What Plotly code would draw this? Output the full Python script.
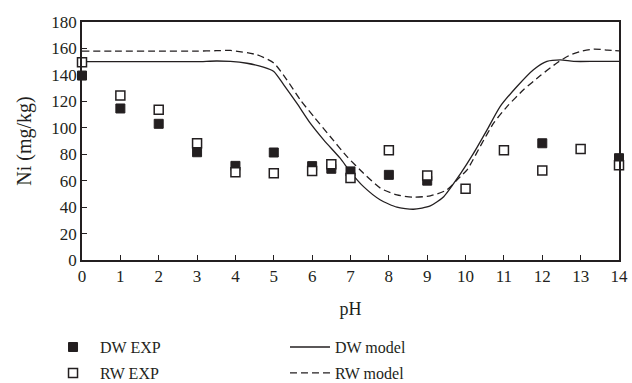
import plotly.graph_objects as go

# Experimental data
ph_exp_dw = [0, 1, 2, 3, 4, 5, 6, 6.5, 7, 8, 9, 12, 14]
ni_exp_dw = [139.5, 114.6, 103, 81.5, 71.2, 81.3, 71, 69, 67, 64.4, 60, 88.3, 77]
ph_exp_rw = [0, 1, 2, 3, 4, 5, 6, 6.5, 7, 8, 9, 10, 11, 12, 13, 14]
ni_exp_rw = [149.6, 124.4, 113.6, 88.3, 66.4, 65.6, 67.4, 72.5, 62, 83, 64, 53.8, 83, 67.6, 84, 71.7]

# Model curves
ph_mod_dw = [0, 1, 2, 3, 3.5, 3.87, 4.3, 4.73, 5.0, 5.26, 5.6, 5.95, 6.3, 6.73, 6.99, 7.34,
             7.78, 8.21, 8.64, 9.08, 9.43, 9.86, 10.21, 10.56, 10.9, 11.34, 11.77, 12.12,
             12.47, 12.82, 13.4, 14]
ni_mod_dw = [150, 150, 150, 150, 150.5, 150.2, 148.8, 145.9, 142.6, 132.5, 118.6, 103.5, 90.9,
             77, 66.9, 55.5, 45.4, 39.9, 38.4, 40.9, 47.9, 65, 80.8, 98.4, 116, 131.2, 143.9,
             150.2, 151.4, 150.2, 150.2, 150.2]
ph_mod_rw = [0, 1, 2, 3, 3.5, 3.87, 4.56, 5.0, 5.34, 5.69, 6.04, 6.47, 6.91, 7.34, 7.78, 8.21,
             8.64, 9.08, 9.51, 9.86, 10.04, 10.38, 10.73, 11.08, 11.51, 11.95, 12.38, 12.69,
             12.99, 13.34, 13.7, 14]
ni_mod_rw = [158, 158, 158, 158, 158.3, 158.5, 155.2, 149, 136.3, 121.2, 108.5, 93.4, 78.2,
             65.6, 54.3, 49.2, 47.5, 48.5, 53, 63, 68.1, 85.8, 103.5, 116, 128.7, 139.5, 149,
             154.5, 157.7, 159.5, 158.8, 158.2]

x_ticks = list(range(0, 15))
y_ticks = list(range(0, 181, 20))

FONT = "Liberation Serif"
INK = "#231f20"

fig = go.Figure()
fig.add_trace(go.Scatter(x=ph_mod_dw, y=ni_mod_dw, mode="lines", name="DW model",
                         line=dict(color=INK, width=1.3, shape="spline", smoothing=0.6),
                         legend="legend3"))
fig.add_trace(go.Scatter(x=ph_mod_rw, y=ni_mod_rw, mode="lines", name="RW model",
                         line=dict(color=INK, width=1.3, dash="7px,4px", shape="spline", smoothing=0.6),
                         legend="legend4"))
fig.add_trace(go.Scatter(x=ph_exp_dw, y=ni_exp_dw, mode="markers", name="DW EXP",
                         cliponaxis=False,
                         marker=dict(symbol="square", size=9, color=INK,
                                     line=dict(color=INK, width=1)),
                         legend="legend"))
fig.add_trace(go.Scatter(x=ph_exp_rw, y=ni_exp_rw, mode="markers", name="RW EXP",
                         cliponaxis=False,
                         marker=dict(symbol="square", size=9, color="white",
                                     line=dict(color=INK, width=1.5)),
                         legend="legend2"))

leg_common = dict(font=dict(family=FONT, size=16, color=INK), bgcolor="rgba(0,0,0,0)",
                  yanchor="middle", xanchor="left", borderwidth=0)
leg_mark = dict(itemwidth=44, **leg_common)
leg_line = dict(itemwidth=40, **leg_common)

fig.update_layout(
    width=632, height=383,
    margin=dict(l=82, r=13, t=22, b=123, autoexpand=False),
    paper_bgcolor="white", plot_bgcolor="white",
    font=dict(family=FONT, size=17, color=INK),
    showlegend=True,
    legend=dict(x=-0.067, y=-0.366, **leg_mark),
    legend2=dict(x=-0.067, y=-0.475, **leg_mark),
    legend3=dict(x=0.378, y=-0.366, **leg_line),
    legend4=dict(x=0.378, y=-0.475, **leg_line),
    xaxis=dict(range=[0, 14], tickvals=x_ticks, ticks="inside", ticklen=5, tickwidth=1.2,
               tickcolor=INK, showline=True, linecolor=INK, linewidth=1.5, mirror=True,
               showgrid=False, zeroline=False,
               title=dict(text="pH", standoff=17, font=dict(size=18)),
               tickfont=dict(size=17)),
    yaxis=dict(range=[0, 180], tickvals=y_ticks, ticks="inside", ticklen=5, tickwidth=1.2,
               tickcolor=INK, showline=True, linecolor=INK, linewidth=1.5, mirror=True,
               showgrid=False, zeroline=False,
               title=dict(text="Ni (mg/kg)", standoff=14, font=dict(size=20)),
               tickfont=dict(size=17)),
)

fig.write_html("out.html")
